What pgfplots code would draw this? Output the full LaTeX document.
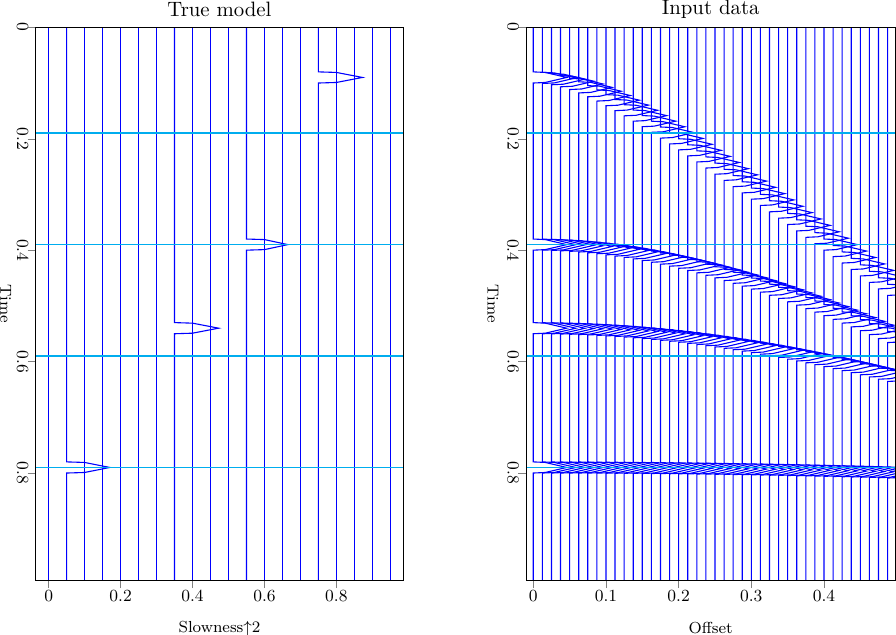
\documentclass[border=0pt]{standalone}
\usepackage{pgfplots}
\pgfplotsset{compat=1.18}
\begin{document}
\begin{tikzpicture}
\pgfplotsset{
  T/.style={color=blue, solid, line width=0.55pt, mark=none},
  G/.style={color=cyan, solid, line width=0.75pt, mark=none},
  seis/.style={
    scale only axis,
    height=276.35pt,
    y dir=reverse, ymin=0, ymax=0.992,
    axis on top,
    tick align=outside,
    xtick pos=bottom, ytick pos=left,
    major tick length=4pt,
    ytick={0,0.2,0.4,0.6,0.8},
    yticklabels={0,0.2,0.4,0.6,0.8},
    tick label style={font=\fontsize{8.5}{10}\selectfont},
    yticklabel style={rotate=-90, anchor=center},
    yticklabel shift=2.5pt,
    xticklabel style={anchor=center},
    xticklabel shift=4pt,
    title style={at={(axis description cs:0.5,1)}, anchor=center, yshift=3pt, font=\fontsize{10.4}{12}\selectfont},
    xlabel style={at={(axis description cs:0.5,0)}, anchor=center, yshift=-24pt, font=\fontsize{8}{10}\selectfont},
    ylabel style={anchor=center, rotate=180, font=\fontsize{8}{10}\selectfont},
    axis line style={line width=0.5pt},
  }
}
% ---------------- Left: True model ----------------
\begin{axis}[seis, at={(109.75pt,-151.83pt)}, anchor=center,
  width=183.8pt,
  xmin=-0.72, xmax=19.72,
  xtick={0,4,8,12,16}, xticklabels={0,0.2,0.4,0.6,0.8},
  title={True model}, xlabel={Slowness$\uparrow$2}, ylabel={Time},
  ylabel style={at={(axis description cs:-0.0816,0.5)}}]
\addplot[T] coordinates {(0,0) (0,0.992)};
\addplot[T] coordinates {(1,0) (1,0.7800) (2,0.7810) (3.4,0.7900) (2,0.7990) (1,0.8000) (1,0.992)};
\addplot[T] coordinates {(2,0) (2,0.992)};
\addplot[T] coordinates {(3,0) (3,0.992)};
\addplot[T] coordinates {(4,0) (4,0.992)};
\addplot[T] coordinates {(5,0) (5,0.992)};
\addplot[T] coordinates {(6,0) (6,0.992)};
\addplot[T] coordinates {(7,0) (7,0.5300) (8,0.5310) (9.45,0.5400) (8,0.5490) (7,0.5500) (7,0.992)};
\addplot[T] coordinates {(8,0) (8,0.992)};
\addplot[T] coordinates {(9,0) (9,0.992)};
\addplot[T] coordinates {(10,0) (10,0.992)};
\addplot[T] coordinates {(11,0) (11,0.3800) (12,0.3810) (13.3,0.3900) (12,0.3990) (11,0.4000) (11,0.992)};
\addplot[T] coordinates {(12,0) (12,0.992)};
\addplot[T] coordinates {(13,0) (13,0.992)};
\addplot[T] coordinates {(14,0) (14,0.992)};
\addplot[T] coordinates {(15,0) (15,0.0800) (16,0.0810) (17.45,0.0900) (16,0.0990) (15,0.1000) (15,0.992)};
\addplot[T] coordinates {(16,0) (16,0.992)};
\addplot[T] coordinates {(17,0) (17,0.992)};
\addplot[T] coordinates {(18,0) (18,0.992)};
\addplot[T] coordinates {(19,0) (19,0.992)};
\addplot[G] coordinates {(-0.72,0.19) (19.72,0.19)};
\addplot[G] coordinates {(-0.72,0.39) (19.72,0.39)};
\addplot[G] coordinates {(-0.72,0.59) (19.72,0.59)};
\addplot[G] coordinates {(-0.72,0.79) (19.72,0.79)};
\end{axis}
% ---------------- Right: Input data ----------------
\begin{axis}[seis, at={(355.33pt,-151.83pt)}, anchor=center,
  width=184.65pt,
  xmin=-0.80, xmax=39.85,
  xtick={0,8,16,24,32}, xticklabels={0,0.1,0.2,0.3,0.4},
  title={Input data}, xlabel={Offset}, ylabel={Time},
  ylabel style={at={(axis description cs:-0.0894,0.5)}}]
\addplot[T] coordinates {(0,0) (0,0.0800) (1.32,0.0810) (3.68,0.0900) (1.32,0.0990) (0,0.1000) (0,0.3800) (1.32,0.3810) (3.68,0.3900) (1.32,0.3990) (0,0.4000) (0,0.5300) (1.32,0.5310) (3.68,0.5400) (1.32,0.5490) (0,0.5500) (0,0.7800) (1.32,0.7810) (3.68,0.7900) (1.32,0.7990) (0,0.8000) (0,0.992)};
\addplot[T] coordinates {(1,0) (1,0.0808) (2.32,0.0818) (4.68,0.0908) (2.32,0.0998) (1,0.1008) (1,0.3801) (2.32,0.3811) (4.68,0.3901) (2.32,0.3991) (1,0.4001) (1,0.5301) (2.32,0.5311) (4.68,0.5401) (2.32,0.5491) (1,0.5501) (1,0.7800) (2.32,0.7810) (4.68,0.7900) (2.32,0.7990) (1,0.8000) (1,0.992)};
\addplot[T] coordinates {(2,0) (2,0.0831) (3.32,0.0841) (5.68,0.0931) (3.32,0.1021) (2,0.1031) (2,0.3805) (3.32,0.3815) (5.68,0.3905) (3.32,0.3995) (2,0.4005) (2,0.5302) (3.32,0.5312) (5.68,0.5402) (3.32,0.5492) (2,0.5502) (2,0.7800) (3.32,0.7810) (5.68,0.7900) (3.32,0.7990) (2,0.8000) (2,0.992)};
\addplot[T] coordinates {(3,0) (3,0.0868) (4.32,0.0878) (6.68,0.0968) (4.32,0.1058) (3,0.1068) (3,0.3812) (4.32,0.3822) (6.68,0.3912) (4.32,0.4002) (3,0.4012) (3,0.5306) (4.32,0.5316) (6.68,0.5406) (4.32,0.5496) (3,0.5506) (3,0.7801) (4.32,0.7811) (6.68,0.7901) (4.32,0.7991) (3,0.8001) (3,0.992)};
\addplot[T] coordinates {(4,0) (4,0.0917) (5.32,0.0927) (7.68,0.1017) (5.32,0.1107) (4,0.1117) (4,0.3821) (5.32,0.3831) (7.68,0.3921) (5.32,0.4011) (4,0.4021) (4,0.5310) (5.32,0.5320) (7.68,0.5410) (5.32,0.5500) (4,0.5510) (4,0.7801) (5.32,0.7811) (7.68,0.7901) (5.32,0.7991) (4,0.8001) (4,0.992)};
\addplot[T] coordinates {(5,0) (5,0.0978) (6.32,0.0988) (8.68,0.1078) (6.32,0.1168) (5,0.1178) (5,0.3833) (6.32,0.3843) (8.68,0.3933) (6.32,0.4023) (5,0.4033) (5,0.5315) (6.32,0.5325) (8.68,0.5415) (6.32,0.5505) (5,0.5515) (5,0.7801) (6.32,0.7811) (8.68,0.7901) (6.32,0.7991) (5,0.8001) (5,0.992)};
\addplot[T] coordinates {(6,0) (6,0.1047) (7.32,0.1057) (9.68,0.1147) (7.32,0.1237) (6,0.1247) (6,0.3847) (7.32,0.3857) (9.68,0.3947) (7.32,0.4037) (6,0.4047) (6,0.5322) (7.32,0.5332) (9.68,0.5422) (7.32,0.5512) (6,0.5522) (6,0.7802) (7.32,0.7812) (9.68,0.7902) (7.32,0.7992) (6,0.8002) (6,0.992)};
\addplot[T] coordinates {(7,0) (7,0.1124) (8.32,0.1134) (10.68,0.1224) (8.32,0.1314) (7,0.1324) (7,0.3864) (8.32,0.3874) (10.68,0.3964) (8.32,0.4054) (7,0.4064) (7,0.5330) (8.32,0.5340) (10.68,0.5430) (8.32,0.5520) (7,0.5530) (7,0.7803) (8.32,0.7813) (10.68,0.7903) (8.32,0.7993) (7,0.8003) (7,0.992)};
\addplot[T] coordinates {(8,0) (8,0.1208) (9.32,0.1218) (11.68,0.1308) (9.32,0.1398) (8,0.1408) (8,0.3884) (9.32,0.3894) (11.68,0.3984) (9.32,0.4074) (8,0.4084) (8,0.5339) (9.32,0.5349) (11.68,0.5439) (9.32,0.5529) (8,0.5539) (8,0.7804) (9.32,0.7814) (11.68,0.7904) (9.32,0.7994) (8,0.8004) (8,0.992)};
\addplot[T] coordinates {(9,0) (9,0.1296) (10.32,0.1306) (12.68,0.1396) (10.32,0.1486) (9,0.1496) (9,0.3906) (10.32,0.3916) (12.68,0.4006) (10.32,0.4096) (9,0.4106) (9,0.5349) (10.32,0.5359) (12.68,0.5449) (10.32,0.5539) (9,0.5549) (9,0.7805) (10.32,0.7815) (12.68,0.7905) (10.32,0.7995) (9,0.8005) (9,0.992)};
\addplot[T] coordinates {(10,0) (10,0.1389) (11.32,0.1399) (13.68,0.1489) (11.32,0.1579) (10,0.1589) (10,0.3930) (11.32,0.3940) (13.68,0.4030) (11.32,0.4120) (10,0.4130) (10,0.5360) (11.32,0.5370) (13.68,0.5460) (11.32,0.5550) (10,0.5560) (10,0.7806) (11.32,0.7816) (13.68,0.7906) (11.32,0.7996) (10,0.8006) (10,0.992)};
\addplot[T] coordinates {(11,0) (11,0.1485) (12.32,0.1495) (14.68,0.1585) (12.32,0.1675) (11,0.1685) (11,0.3957) (12.32,0.3967) (14.68,0.4057) (12.32,0.4147) (11,0.4157) (11,0.5373) (12.32,0.5383) (14.68,0.5473) (12.32,0.5563) (11,0.5573) (11,0.7807) (12.32,0.7817) (14.68,0.7907) (12.32,0.7997) (11,0.8007) (11,0.992)};
\addplot[T] coordinates {(12,0) (12,0.1584) (13.32,0.1594) (15.68,0.1684) (13.32,0.1774) (12,0.1784) (12,0.3986) (13.32,0.3996) (15.68,0.4086) (13.32,0.4176) (12,0.4186) (12,0.5387) (13.32,0.5397) (15.68,0.5487) (13.32,0.5577) (12,0.5587) (12,0.7809) (13.32,0.7819) (15.68,0.7909) (13.32,0.7999) (12,0.8009) (12,0.992)};
\addplot[T] coordinates {(13,0) (13,0.1685) (14.32,0.1695) (16.68,0.1785) (14.32,0.1875) (13,0.1885) (13,0.4017) (14.32,0.4027) (16.68,0.4117) (14.32,0.4207) (13,0.4217) (13,0.5402) (14.32,0.5412) (16.68,0.5502) (14.32,0.5592) (13,0.5602) (13,0.7810) (14.32,0.7820) (16.68,0.7910) (14.32,0.8000) (13,0.8010) (13,0.992)};
\addplot[T] coordinates {(14,0) (14,0.1789) (15.32,0.1799) (17.68,0.1889) (15.32,0.1979) (14,0.1989) (14,0.4051) (15.32,0.4061) (17.68,0.4151) (15.32,0.4241) (14,0.4251) (14,0.5418) (15.32,0.5428) (17.68,0.5518) (15.32,0.5608) (14,0.5618) (14,0.7812) (15.32,0.7822) (17.68,0.7912) (15.32,0.8002) (14,0.8012) (14,0.992)};
\addplot[T] coordinates {(15,0) (15,0.1894) (16.32,0.1904) (18.68,0.1994) (16.32,0.2084) (15,0.2094) (15,0.4087) (16.32,0.4097) (18.68,0.4187) (16.32,0.4277) (15,0.4287) (15,0.5435) (16.32,0.5445) (18.68,0.5535) (16.32,0.5625) (15,0.5635) (15,0.7813) (16.32,0.7823) (18.68,0.7913) (16.32,0.8003) (15,0.8013) (15,0.992)};
\addplot[T] coordinates {(16,0) (16,0.2000) (17.32,0.2010) (19.68,0.2100) (17.32,0.2190) (16,0.2200) (16,0.4125) (17.32,0.4135) (19.68,0.4225) (17.32,0.4315) (16,0.4325) (16,0.5453) (17.32,0.5463) (19.68,0.5553) (17.32,0.5643) (16,0.5653) (16,0.7815) (17.32,0.7825) (19.68,0.7915) (17.32,0.8005) (16,0.8015) (16,0.992)};
\addplot[T] coordinates {(17,0) (17,0.2108) (18.32,0.2118) (20.68,0.2208) (18.32,0.2298) (17,0.2308) (17,0.4165) (18.32,0.4175) (20.68,0.4265) (18.32,0.4355) (17,0.4365) (17,0.5473) (18.32,0.5483) (20.68,0.5573) (18.32,0.5663) (17,0.5673) (17,0.7817) (18.32,0.7827) (20.68,0.7917) (18.32,0.8007) (17,0.8017) (17,0.992)};
\addplot[T] coordinates {(18,0) (18,0.2217) (19.32,0.2227) (21.68,0.2317) (19.32,0.2407) (18,0.2417) (18,0.4207) (19.32,0.4217) (21.68,0.4307) (19.32,0.4397) (18,0.4407) (18,0.5493) (19.32,0.5503) (21.68,0.5593) (19.32,0.5683) (18,0.5693) (18,0.7819) (19.32,0.7829) (21.68,0.7919) (19.32,0.8009) (18,0.8019) (18,0.992)};
\addplot[T] coordinates {(19,0) (19,0.2326) (20.32,0.2336) (22.68,0.2426) (20.32,0.2516) (19,0.2526) (19,0.4251) (20.32,0.4261) (22.68,0.4351) (20.32,0.4441) (19,0.4451) (19,0.5515) (20.32,0.5525) (22.68,0.5615) (20.32,0.5705) (19,0.5715) (19,0.7821) (20.32,0.7831) (22.68,0.7921) (20.32,0.8011) (19,0.8021) (19,0.992)};
\addplot[T] coordinates {(20,0) (20,0.2437) (21.32,0.2447) (23.68,0.2537) (21.32,0.2627) (20,0.2637) (20,0.4297) (21.32,0.4307) (23.68,0.4397) (21.32,0.4487) (20,0.4497) (20,0.5538) (21.32,0.5548) (23.68,0.5638) (21.32,0.5728) (20,0.5738) (20,0.7824) (21.32,0.7834) (23.68,0.7924) (21.32,0.8014) (20,0.8024) (20,0.992)};
\addplot[T] coordinates {(21,0) (21,0.2548) (22.32,0.2558) (24.68,0.2648) (22.32,0.2738) (21,0.2748) (21,0.4345) (22.32,0.4355) (24.68,0.4445) (22.32,0.4535) (21,0.4545) (21,0.5562) (22.32,0.5572) (24.68,0.5662) (22.32,0.5752) (21,0.5762) (21,0.7826) (22.32,0.7836) (24.68,0.7926) (22.32,0.8016) (21,0.8026) (21,0.992)};
\addplot[T] coordinates {(22,0) (22,0.2660) (23.32,0.2670) (25.68,0.2760) (23.32,0.2850) (22,0.2860) (22,0.4395) (23.32,0.4405) (25.68,0.4495) (23.32,0.4585) (22,0.4595) (22,0.5587) (23.32,0.5597) (25.68,0.5687) (23.32,0.5777) (22,0.5787) (22,0.7829) (23.32,0.7839) (25.68,0.7929) (23.32,0.8019) (22,0.8029) (22,0.992)};
\addplot[T] coordinates {(23,0) (23,0.2772) (24.32,0.2782) (26.68,0.2872) (24.32,0.2962) (23,0.2972) (23,0.4446) (24.32,0.4456) (26.68,0.4546) (24.32,0.4636) (23,0.4646) (23,0.5612) (24.32,0.5622) (26.68,0.5712) (24.32,0.5802) (23,0.5812) (23,0.7831) (24.32,0.7841) (26.68,0.7931) (24.32,0.8021) (23,0.8031) (23,0.992)};
\addplot[T] coordinates {(24,0) (24,0.2885) (25.32,0.2895) (27.68,0.2985) (25.32,0.3075) (24,0.3085) (24,0.4499) (25.32,0.4509) (27.68,0.4599) (25.32,0.4689) (24,0.4699) (24,0.5639) (25.32,0.5649) (27.68,0.5739) (25.32,0.5829) (24,0.5839) (24,0.7834) (25.32,0.7844) (27.68,0.7934) (25.32,0.8024) (24,0.8034) (24,0.992)};
\addplot[T] coordinates {(25,0) (25,0.2998) (26.32,0.3008) (28.68,0.3098) (26.32,0.3188) (25,0.3198) (25,0.4554) (26.32,0.4564) (28.68,0.4654) (26.32,0.4744) (25,0.4754) (25,0.5667) (26.32,0.5677) (28.68,0.5767) (26.32,0.5857) (25,0.5867) (25,0.7837) (26.32,0.7847) (28.68,0.7937) (26.32,0.8027) (25,0.8037) (25,0.992)};
\addplot[T] coordinates {(26,0) (26,0.3112) (27.32,0.3122) (29.68,0.3212) (27.32,0.3302) (26,0.3312) (26,0.4610) (27.32,0.4620) (29.68,0.4710) (27.32,0.4800) (26,0.4810) (26,0.5696) (27.32,0.5706) (29.68,0.5796) (27.32,0.5886) (26,0.5896) (26,0.7840) (27.32,0.7850) (29.68,0.7940) (27.32,0.8030) (26,0.8040) (26,0.992)};
\addplot[T] coordinates {(27,0) (27,0.3226) (28.32,0.3236) (30.68,0.3326) (28.32,0.3416) (27,0.3426) (27,0.4667) (28.32,0.4677) (30.68,0.4767) (28.32,0.4857) (27,0.4867) (27,0.5726) (28.32,0.5736) (30.68,0.5826) (28.32,0.5916) (27,0.5926) (27,0.7843) (28.32,0.7853) (30.68,0.7943) (28.32,0.8033) (27,0.8043) (27,0.992)};
\addplot[T] coordinates {(28,0) (28,0.3340) (29.32,0.3350) (31.68,0.3440) (29.32,0.3530) (28,0.3540) (28,0.4727) (29.32,0.4737) (31.68,0.4827) (29.32,0.4917) (28,0.4927) (28,0.5757) (29.32,0.5767) (31.68,0.5857) (29.32,0.5947) (28,0.5957) (28,0.7846) (29.32,0.7856) (31.68,0.7946) (29.32,0.8036) (28,0.8046) (28,0.992)};
\addplot[T] coordinates {(29,0) (29,0.3455) (30.32,0.3465) (32.68,0.3555) (30.32,0.3645) (29,0.3655) (29,0.4787) (30.32,0.4797) (32.68,0.4887) (30.32,0.4977) (29,0.4987) (29,0.5789) (30.32,0.5799) (32.68,0.5889) (30.32,0.5979) (29,0.5989) (29,0.7850) (30.32,0.7860) (32.68,0.7950) (30.32,0.8040) (29,0.8050) (29,0.992)};
\addplot[T] coordinates {(30,0) (30,0.3570) (31.32,0.3580) (33.68,0.3670) (31.32,0.3760) (30,0.3770) (30,0.4849) (31.32,0.4859) (33.68,0.4949) (31.32,0.5039) (30,0.5049) (30,0.5822) (31.32,0.5832) (33.68,0.5922) (31.32,0.6012) (30,0.6022) (30,0.7853) (31.32,0.7863) (33.68,0.7953) (31.32,0.8043) (30,0.8053) (30,0.992)};
\addplot[T] coordinates {(31,0) (31,0.3685) (32.32,0.3695) (34.68,0.3785) (32.32,0.3875) (31,0.3885) (31,0.4912) (32.32,0.4922) (34.68,0.5012) (32.32,0.5102) (31,0.5112) (31,0.5855) (32.32,0.5865) (34.68,0.5955) (32.32,0.6045) (31,0.6055) (31,0.7857) (32.32,0.7867) (34.68,0.7957) (32.32,0.8047) (31,0.8057) (31,0.992)};
\addplot[T] coordinates {(32,0) (32,0.3800) (33.32,0.3810) (35.68,0.3900) (33.32,0.3990) (32,0.4000) (32,0.4976) (33.32,0.4986) (35.68,0.5076) (33.32,0.5166) (32,0.5176) (32,0.5890) (33.32,0.5900) (35.68,0.5990) (33.32,0.6080) (32,0.6090) (32,0.7860) (33.32,0.7870) (35.68,0.7960) (33.32,0.8050) (32,0.8060) (32,0.992)};
\addplot[T] coordinates {(33,0) (33,0.3916) (34.32,0.3926) (36.68,0.4016) (34.32,0.4106) (33,0.4116) (33,0.5042) (34.32,0.5052) (36.68,0.5142) (34.32,0.5232) (33,0.5242) (33,0.5926) (34.32,0.5936) (36.68,0.6026) (34.32,0.6116) (33,0.6126) (33,0.7864) (34.32,0.7874) (36.68,0.7964) (34.32,0.8054) (33,0.8064) (33,0.992)};
\addplot[T] coordinates {(34,0) (34,0.4031) (35.32,0.4041) (37.68,0.4131) (35.32,0.4221) (34,0.4231) (34,0.5109) (35.32,0.5119) (37.68,0.5209) (35.32,0.5299) (34,0.5309) (34,0.5962) (35.32,0.5972) (37.68,0.6062) (35.32,0.6152) (34,0.6162) (34,0.7868) (35.32,0.7878) (37.68,0.7968) (35.32,0.8058) (34,0.8068) (34,0.992)};
\addplot[T] coordinates {(35,0) (35,0.4147) (36.32,0.4157) (38.68,0.4247) (36.32,0.4337) (35,0.4347) (35,0.5177) (36.32,0.5187) (38.68,0.5277) (36.32,0.5367) (35,0.5377) (35,0.5999) (36.32,0.6009) (38.68,0.6099) (36.32,0.6189) (35,0.6199) (35,0.7872) (36.32,0.7882) (38.68,0.7972) (36.32,0.8062) (35,0.8072) (35,0.992)};
\addplot[T] coordinates {(36,0) (36,0.4263) (37.32,0.4273) (39.68,0.4363) (37.32,0.4453) (36,0.4463) (36,0.5246) (37.32,0.5256) (39.68,0.5346) (37.32,0.5436) (36,0.5446) (36,0.6037) (37.32,0.6047) (39.68,0.6137) (37.32,0.6227) (36,0.6237) (36,0.7876) (37.32,0.7886) (39.68,0.7976) (37.32,0.8066) (36,0.8076) (36,0.992)};
\addplot[T] coordinates {(37,0) (37,0.4379) (38.32,0.4389) (40.68,0.4479) (38.32,0.4569) (37,0.4579) (37,0.5316) (38.32,0.5326) (40.68,0.5416) (38.32,0.5506) (37,0.5516) (37,0.6076) (38.32,0.6086) (40.68,0.6176) (38.32,0.6266) (37,0.6276) (37,0.7880) (38.32,0.7890) (40.68,0.7980) (38.32,0.8070) (37,0.8080) (37,0.992)};
\addplot[T] coordinates {(38,0) (38,0.4495) (39.32,0.4505) (41.68,0.4595) (39.32,0.4685) (38,0.4695) (38,0.5387) (39.32,0.5397) (41.68,0.5487) (39.32,0.5577) (38,0.5587) (38,0.6116) (39.32,0.6126) (41.68,0.6216) (39.32,0.6306) (38,0.6316) (38,0.7885) (39.32,0.7895) (41.68,0.7985) (39.32,0.8075) (38,0.8085) (38,0.992)};
\addplot[T] coordinates {(39,0) (39,0.4612) (40.32,0.4622) (42.68,0.4712) (40.32,0.4802) (39,0.4812) (39,0.5458) (40.32,0.5468) (42.68,0.5558) (40.32,0.5648) (39,0.5658) (39,0.6156) (40.32,0.6166) (42.68,0.6256) (40.32,0.6346) (39,0.6356) (39,0.7890) (40.32,0.7900) (42.68,0.7990) (40.32,0.8080) (39,0.8090) (39,0.992)};
\addplot[G] coordinates {(-0.80,0.19) (39.85,0.19)};
\addplot[G] coordinates {(-0.80,0.39) (39.85,0.39)};
\addplot[G] coordinates {(-0.80,0.59) (39.85,0.59)};
\addplot[G] coordinates {(-0.80,0.79) (39.85,0.79)};
\end{axis}
\pgfresetboundingbox
\path (0pt,0pt) rectangle (448pt,-317.5pt);
\end{tikzpicture}
\end{document}
